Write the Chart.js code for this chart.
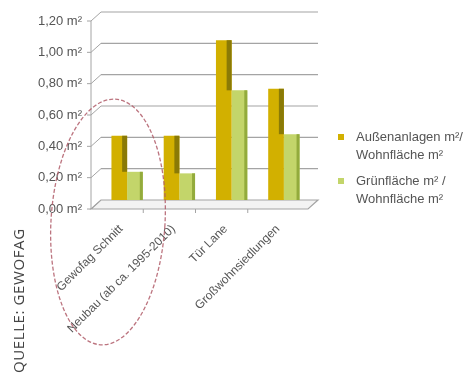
<!DOCTYPE html>
<html>
<head>
<meta charset="utf-8">
<script src="https://cdn.jsdelivr.net/npm/chart.js@4.4.0/dist/chart.umd.min.js"></script>
<style>
  html, body { margin: 0; padding: 0; background: #fff; }
  #wrap { position: relative; width: 466px; height: 374px; overflow: hidden; }
  #c { position: absolute; left: 0; top: 0; }
  #legend { position: absolute; left: 338px; top: 128px; font: 13px "Liberation Sans", sans-serif; color: #555; white-space: nowrap; }
  .item { position: relative; padding-left: 18px; line-height: 18px; margin-bottom: 8px; }
  .sw { position: absolute; left: 0; top: 6px; width: 6px; height: 6px; }
  #source { position: absolute; left: 8px; top: 373px; transform-origin: 0 0; transform: rotate(-90deg);
            font: 15px "Open Sans", sans-serif; letter-spacing: 0.6px; color: #444; white-space: nowrap; }
</style>
</head>
<body>
<div id="wrap">
  <canvas id="c" width="466" height="374"></canvas>
  <div id="legend"></div>
  <div id="source">QUELLE: GEWOFAG</div>
</div>
<script>
// Flächenkennzahlen je Wohnung
const categories = ['Gewofag Schnitt', 'Neubau (ab ca. 1995-2010)', 'Tür Lane', 'Großwohnsiedlungen'];
const aussenanlagen = [0.41, 0.41, 1.02, 0.71];
const gruenflaeche = [0.18, 0.17, 0.70, 0.42];
const seriesNames = [
  ['Außenanlagen m²/', 'Wohnfläche m²'],
  ['Grünfläche m² /', 'Wohnfläche m²']
];
const yMin = 0, yMax = 1.2, yStep = 0.2;

const frontColors = ['#d2b000', '#c3d56a'];
const sideColors = ['#8a7a06', '#93ab3c'];

// depth offset of the front edge of the pseudo-3D frame
const DX = 10, DY = 9, EXT = 8;

const frame3d = {
  id: 'frame3d',
  beforeDatasetsDraw(chart) {
    const { ctx, chartArea: a, scales: { y } } = chart;
    ctx.save();
    // floor
    ctx.beginPath();
    ctx.moveTo(a.left, a.bottom);
    ctx.lineTo(a.right + EXT, a.bottom);
    ctx.lineTo(a.right + EXT - DX, a.bottom + DY);
    ctx.lineTo(a.left - DX, a.bottom + DY);
    ctx.closePath();
    ctx.fillStyle = '#f3f3f3';
    ctx.fill();
    ctx.strokeStyle = '#a4a4a4';
    ctx.lineWidth = 1.2;
    ctx.stroke();
    // back-wall grid lines, depth connectors and front tick marks
    y.ticks.forEach(t => {
      const py = y.getPixelForValue(t.value);
      ctx.strokeStyle = '#a4a4a4';
      ctx.lineWidth = 1.2;
      if (t.value > 0) {
        ctx.beginPath();
        ctx.moveTo(a.left, py);
        ctx.lineTo(a.right + EXT, py);
        ctx.stroke();
      }
      ctx.lineWidth = 1;
      ctx.beginPath();
      ctx.moveTo(a.left - DX, py + DY);
      ctx.lineTo(a.left, py);
      ctx.moveTo(a.left - DX - 4, py + DY);
      ctx.lineTo(a.left - DX, py + DY);
      ctx.stroke();
    });
    // front value axis
    ctx.beginPath();
    ctx.moveTo(a.left - DX, y.getPixelForValue(yMax) + DY);
    ctx.lineTo(a.left - DX, a.bottom + DY);
    ctx.stroke();
    // category separators on the front edge of the floor
    const cw = (a.right - a.left) / categories.length;
    ctx.beginPath();
    for (let i = 1; i < categories.length; i++) {
      const px = a.left + i * cw - DX;
      ctx.moveTo(px, a.bottom + DY);
      ctx.lineTo(px, a.bottom + DY + 4);
    }
    ctx.stroke();
    ctx.restore();
  },
  afterDatasetsDraw(chart) {
    const { ctx } = chart;
    const m0 = chart.getDatasetMeta(0).data;
    const m1 = chart.getDatasetMeta(1).data;
    ctx.save();
    m0.forEach((b0, i) => {
      const b1 = m1[i];
      const r0 = b0.x + b0.width / 2;
      const r1 = b1.x + b1.width / 2;
      // side face of the first column, visible above the second column
      const low = Math.min(b1.y, b0.base);
      if (low > b0.y) {
        ctx.fillStyle = sideColors[0];
        ctx.fillRect(r0 - 5, b0.y, 5, low - b0.y);
      }
      ctx.fillStyle = sideColors[1];
      ctx.fillRect(r1 - 3, b1.y, 3, b1.base - b1.y);
    });
    ctx.restore();
  },
  afterDraw(chart) {
    // hand-drawn emphasis ring round the first category
    const { ctx } = chart;
    ctx.save();
    ctx.strokeStyle = 'rgba(176, 92, 104, 0.85)';
    ctx.lineWidth = 1.3;
    ctx.setLineDash([4, 2]);
    ctx.beginPath();
    ctx.ellipse(108, 222, 57, 123, 0.06, 0, Math.PI * 2);
    ctx.stroke();
    ctx.restore();
  }
};

function noScalePadding(s) {
  s.paddingTop = 0; s.paddingBottom = 0; s.paddingLeft = 0; s.paddingRight = 0;
}

const chart = new Chart(document.getElementById('c'), {
  type: 'bar',
  data: {
    labels: categories,
    datasets: [
      { label: seriesNames[0].join(' '), data: aussenanlagen, backgroundColor: frontColors[0] },
      { label: seriesNames[1].join(' '), data: gruenflaeche, backgroundColor: frontColors[1] }
    ]
  },
  options: {
    responsive: false,
    animation: false,
    devicePixelRatio: 1,
    layout: { padding: { top: 12, right: 156, left: 0, bottom: 0 } },
    datasets: { bar: { categoryPercentage: 0.6, barPercentage: 1.0 } },
    plugins: { legend: { display: false }, tooltip: { enabled: false } },
    scales: {
      x: {
        grid: { display: false, drawTicks: false },
        border: { display: false },
        ticks: {
          autoSkip: false,
          minRotation: 45, maxRotation: 45,
          padding: 22,
          labelOffset: -6,
          color: '#555',
          font: { family: 'Liberation Sans', size: 12 }
        },
        afterFit(s) { s.height = 174; noScalePadding(s); }
      },
      y: {
        min: yMin, max: yMax,
        grid: { display: false, drawTicks: false },
        border: { display: false },
        ticks: {
          stepSize: yStep,
          padding: 19,
          labelOffset: DY,
          color: '#555',
          font: { family: 'Liberation Sans', size: 13 },
          callback: v => v.toFixed(2).replace('.', ',') + ' m²'
        },
        afterFit(s) { s.width = 101; noScalePadding(s); }
      }
    }
  },
  plugins: [frame3d]
});

// legend built from the series names and colours
const legend = document.getElementById('legend');
seriesNames.forEach((lines, i) => {
  const item = document.createElement('div');
  item.className = 'item';
  const sw = document.createElement('span');
  sw.className = 'sw';
  sw.style.background = frontColors[i];
  item.appendChild(sw);
  lines.forEach((t, j) => {
    if (j) item.appendChild(document.createElement('br'));
    item.appendChild(document.createTextNode(t));
  });
  legend.appendChild(item);
});
</script>
</body>
</html>
